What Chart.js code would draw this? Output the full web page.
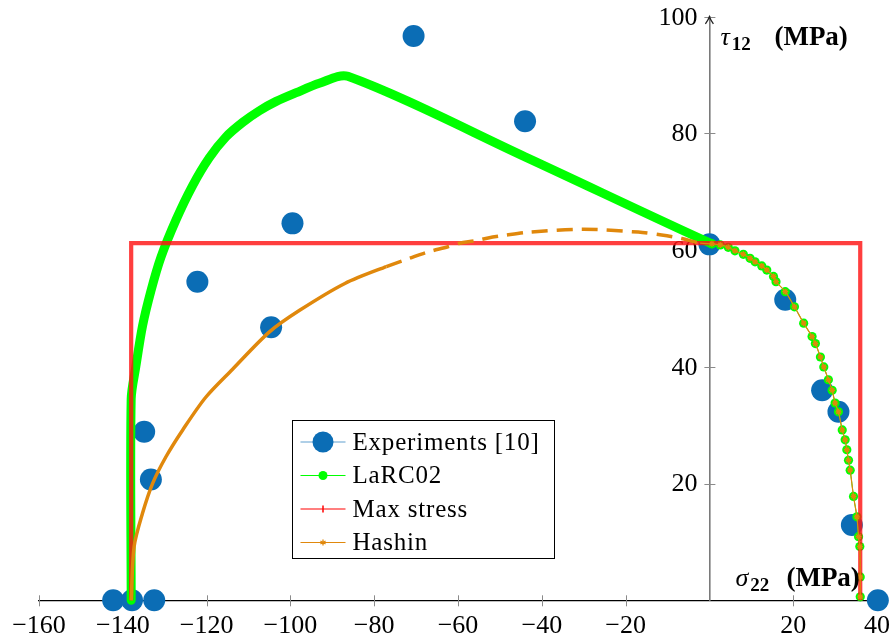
<!DOCTYPE html>
<html>
<head>
<meta charset="utf-8">
<script src="https://cdn.jsdelivr.net/npm/chart.js@4.4.1/dist/chart.umd.min.js"></script>
<style>
  html, body { margin: 0; padding: 0; background: #fff; }
  canvas { display: block; }
</style>
</head>
<body>
<canvas id="failureEnvelope" width="893" height="641"></canvas>
<script>
// Failure envelope in the sigma22 / tau12 plane, both in MPa

// Experiments [10]
const expX = [-142.3, -137.8, -132.5, -134.9, -133.3, -122.2, -104.6, -99.5, -70.6, -44.0, 0.0, 18.1, 26.9, 30.8, 34.0, 40.2];
const expY = [0, 0, 0, 28.9, 20.7, 54.6, 46.8, 64.6, 96.7, 82.1, 61.0, 51.5, 36.0, 32.3, 12.9, 0];

// tension side, shared by LaRC02 and Hashin (the two curves coincide there)
const tensionX = [0.6, 2.6, 4.5, 6.1, 8.1, 9.7, 10.9, 12.5, 13.7, 15.3, 15.9, 18.1, 20.3, 22.5, 24.5, 25.3, 26.5, 27.3, 28.4, 29.3, 30.0, 30.8, 31.7, 32.4, 32.8, 33.2, 33.6, 34.4, 35.2, 35.6, 35.9, 36.0, 36.0];
const tensionY = [61.1, 60.9, 60.5, 59.9, 59.3, 58.6, 58.0, 57.3, 56.6, 55.5, 54.6, 52.9, 50.3, 47.5, 45.2, 44.0, 41.7, 40.0, 37.8, 36.0, 33.8, 32.3, 29.2, 27.5, 25.8, 24.0, 22.3, 17.8, 14.3, 10.9, 9.2, 4.0, 0.6];

// LaRC02, compression side
const larcCompX = [-138.0, -138.0, -136.9, -135.3, -133.3, -130.9, -127.3, -123.4, -119.4, -115.4, -111.4, -107.4, -103.4, -98.6, -93.1, -86.3, -44.0];
const larcCompY = [0, 34.5, 40.0, 47.0, 53.0, 58.8, 65.2, 71.0, 75.8, 79.4, 81.9, 83.9, 85.5, 87.0, 88.6, 89.8, 76.0];

// Max stress
const maxX = [-138.0, -138.0, 36.0, 36.0];
const maxY = [0, 61.2, 61.2, 0];

// Hashin, compression side
const hashCompX = [-138.0, -137.3, -135.3, -132.9, -129.7, -125.7, -120.2, -113.8, -105.0, -97.8, -87.0, -77.1, -71.6, -67.6, -62.4, -59.6, -56.0, -52.8, -48.4, -42.9, -30.1, -17.0, -11.4, -6.6, -2.2];
const hashCompY = [0, 9.2, 14.9, 20.0, 24.6, 29.2, 34.8, 39.6, 46.0, 49.7, 54.3, 57.2, 58.6, 59.6, 60.6, 61.2, 61.6, 62.1, 62.6, 63.1, 63.6, 63.1, 62.6, 62.0, 61.2];

const xTicks = [-160, -140, -120, -100, -80, -60, -40, -20, 20, 40];
const yTicks = [20, 40, 60, 80, 100];

const BLUE = '#0b6db5';
const GREEN = '#00ff00';
const RED = '#ff0000';
const ORANGE = '#e0880c';
const SERIF = '"Liberation Serif", "Times New Roman", serif';

const toPoints = (xs, ys) => xs.map((x, i) => ({ x: x, y: ys[i] }));
const fmtTick = v => (v < 0 ? '\u2212' + Math.abs(v) : String(v));

Chart.defaults.font.family = SERIF;
Chart.defaults.font.size = 26;
Chart.defaults.color = '#000';

// tick marks crossing the axes, y labels, arrow, axis titles and the boxed legend
const axisDecor = {
  id: 'axisDecor',
  beforeDatasetsDraw(chart) {
    const { ctx, scales: { x, y } } = chart;
    const x0 = x.getPixelForValue(0);
    const y0 = y.getPixelForValue(0);
    ctx.save();
    ctx.strokeStyle = '#8a8a8a';
    ctx.lineWidth = 1;
    ctx.beginPath();
    xTicks.forEach(v => {
      const px = Math.round(x.getPixelForValue(v)) + 0.5;
      ctx.moveTo(px, y0 - 5);
      ctx.lineTo(px, y0 + 6);
    });
    yTicks.forEach(v => {
      const py = Math.round(y.getPixelForValue(v)) + 0.5;
      ctx.moveTo(x0 - 5, py);
      ctx.lineTo(x0 + 6, py);
    });
    ctx.stroke();

    // y tick labels sit left of the centred axis
    ctx.fillStyle = '#000';
    ctx.font = '26px ' + SERIF;
    ctx.textAlign = 'right';
    ctx.textBaseline = 'middle';
    yTicks.forEach(v => ctx.fillText(fmtTick(v), x0 - 12, y.getPixelForValue(v) + 1));

    // arrow head on the tau axis
    const top = y.getPixelForValue(100);
    ctx.strokeStyle = '#222';
    ctx.lineWidth = 1.3;
    ctx.beginPath();
    ctx.moveTo(x0 - 4, top + 7);
    ctx.quadraticCurveTo(x0 - 1, top + 3, x0, top);
    ctx.quadraticCurveTo(x0 + 1, top + 3, x0 + 4, top + 7);
    ctx.stroke();
    ctx.restore();
  },
  afterDraw(chart) {
    const { ctx, scales: { x, y } } = chart;
    const x0 = x.getPixelForValue(0);
    const y0 = y.getPixelForValue(0);
    ctx.save();
    ctx.fillStyle = '#000';
    ctx.textBaseline = 'alphabetic';
    ctx.textAlign = 'left';

    // axis titles: italic symbol, bold subscript, bold unit
    const title = (left, base, sym, sub, unitLeft) => {
      ctx.font = 'italic 26px ' + SERIF;
      ctx.fillText(sym, left, base);
      const w = ctx.measureText(sym).width;
      ctx.font = 'bold 19px ' + SERIF;
      ctx.fillText(sub, left + w + 2, base + 5);
      ctx.font = 'bold 27px ' + SERIF;
      ctx.fillText('(MPa)', unitLeft, base);
    };
    title(x0 + 11, 45, '\u03c4', '12', x0 + 65);
    title(x0 + 26, y0 - 14, '\u03c3', '22', x0 + 77);

    // legend
    const lg = { left: 292.5, top: 420.5, w: 262, h: 138, first: 21.5, rowH: 33.5 };
    ctx.fillStyle = '#fff';
    ctx.fillRect(lg.left, lg.top, lg.w, lg.h);
    ctx.strokeStyle = '#000';
    ctx.lineWidth = 1;
    ctx.strokeRect(lg.left, lg.top, lg.w, lg.h);

    const entries = [
      { label: 'Experiments [10]', color: BLUE, line: 'rgba(11,109,181,0.65)', marker: 'bigdot' },
      { label: 'LaRC02', color: GREEN, line: GREEN, marker: 'dot' },
      { label: 'Max stress', color: RED, line: RED, marker: 'plus' },
      { label: 'Hashin', color: ORANGE, line: ORANGE, marker: 'star' }
    ];
    ctx.font = '25px ' + SERIF;
    ctx.textBaseline = 'middle';
    entries.forEach((e, i) => {
      const cy = lg.top + lg.first + i * lg.rowH;
      const l = lg.left + 8, r = lg.left + 53, cx = (l + r) / 2;
      ctx.strokeStyle = e.line;
      ctx.lineWidth = 1.2;
      ctx.beginPath();
      ctx.moveTo(l, cy);
      ctx.lineTo(r, cy);
      ctx.stroke();
      ctx.fillStyle = e.color;
      ctx.strokeStyle = e.color;
      if (e.marker === 'bigdot' || e.marker === 'dot') {
        ctx.beginPath();
        ctx.arc(cx, cy, e.marker === 'bigdot' ? 10.5 : 4.5, 0, Math.PI * 2);
        ctx.fill();
      } else if (e.marker === 'plus') {
        ctx.lineWidth = 1.5;
        ctx.beginPath();
        ctx.moveTo(cx, cy - 3.5);
        ctx.lineTo(cx, cy + 3.5);
        ctx.stroke();
      } else {
        ctx.lineWidth = 1.3;
        ctx.beginPath();
        for (let k = 0; k < 3; k++) {
          const a = k * Math.PI / 3 + Math.PI / 2;
          ctx.moveTo(cx + 3 * Math.cos(a), cy + 3 * Math.sin(a));
          ctx.lineTo(cx - 3 * Math.cos(a), cy - 3 * Math.sin(a));
        }
        ctx.stroke();
      }
      ctx.fillStyle = '#000';
      ctx.letterSpacing = '0.8px';
      ctx.fillText(e.label, lg.left + 60, cy + 1);
      ctx.letterSpacing = '0px';
    });
    ctx.restore();
  }
};

const ctxEnv = document.getElementById('failureEnvelope');
new Chart(ctxEnv.getContext('2d'), {
  type: 'scatter',
  data: {
    datasets: [
      {
        label: 'Experiments [10]',
        data: toPoints(expX, expY),
        showLine: false,
        pointRadius: 11,
        pointHoverRadius: 11,
        pointBorderWidth: 0,
        backgroundColor: BLUE,
        borderColor: BLUE,
        clip: false,
        order: 4
      },
      {
        label: 'LaRC02',
        data: toPoints(larcCompX.concat(tensionX), larcCompY.concat(tensionY)),
        showLine: true,
        tension: 0.3,
        borderColor: GREEN,
        backgroundColor: GREEN,
        borderWidth: 1,
        borderCapStyle: 'round',
        borderJoinStyle: 'round',
        segment: {
          borderWidth: c => (c.p1.parsed.x <= 0.6 ? 9 : 1)
        },
        pointRadius: c => (c.raw && c.raw.x > 0 ? 4.6 : 0),
        pointBorderWidth: 0,
        clip: false,
        order: 3
      },
      {
        label: 'Max stress',
        data: toPoints(maxX, maxY),
        showLine: true,
        borderColor: 'rgba(255,20,20,0.82)',
        borderWidth: 4.2,
        pointRadius: 0,
        clip: false,
        order: 2
      },
      {
        label: 'Hashin',
        data: toPoints(hashCompX.concat(tensionX), hashCompY.concat(tensionY)),
        showLine: true,
        tension: 0.3,
        borderColor: ORANGE,
        backgroundColor: ORANGE,
        borderWidth: 1.2,
        segment: {
          borderWidth: c => (c.p1.parsed.x < 0 ? 3.5 : 1.2),
          borderDash: c => (c.p0.parsed.x > -80 && c.p1.parsed.x < 0 ? [16, 9] : undefined)
        },
        pointStyle: 'star',
        pointRadius: c => (c.raw && c.raw.x > 0 ? 3 : 0),
        pointBorderColor: ORANGE,
        pointBorderWidth: 1.3,
        clip: false,
        order: 1
      }
    ]
  },
  options: {
    responsive: false,
    animation: false,
    events: [],
    layout: { padding: { left: 39, right: 16, top: 16.8, bottom: 0 } },
    plugins: {
      legend: { display: false },
      tooltip: { enabled: false }
    },
    scales: {
      x: {
        type: 'linear',
        min: -160,
        max: 40,
        afterBuildTicks: s => { s.ticks = xTicks.map(v => ({ value: v })); },
        afterFit: s => { s.height = 40.7; s.paddingLeft = 0; s.paddingRight = 0; },
        grid: { drawOnChartArea: false, drawTicks: false },
        border: { display: true, color: '#000', width: 1.2 },
        ticks: { padding: 10, callback: fmtTick }
      },
      y: {
        type: 'linear',
        min: 0,
        max: 100,
        position: { x: 0 },
        afterBuildTicks: s => { s.ticks = yTicks.map(v => ({ value: v })); },
        afterFit: s => { s.paddingTop = 0; s.paddingBottom = 0; },
        grid: { drawOnChartArea: false, drawTicks: false },
        border: { display: true, color: '#7a7a7a', width: 1.6 },
        ticks: { display: false }
      }
    }
  },
  plugins: [axisDecor]
});
</script>
</body>
</html>
